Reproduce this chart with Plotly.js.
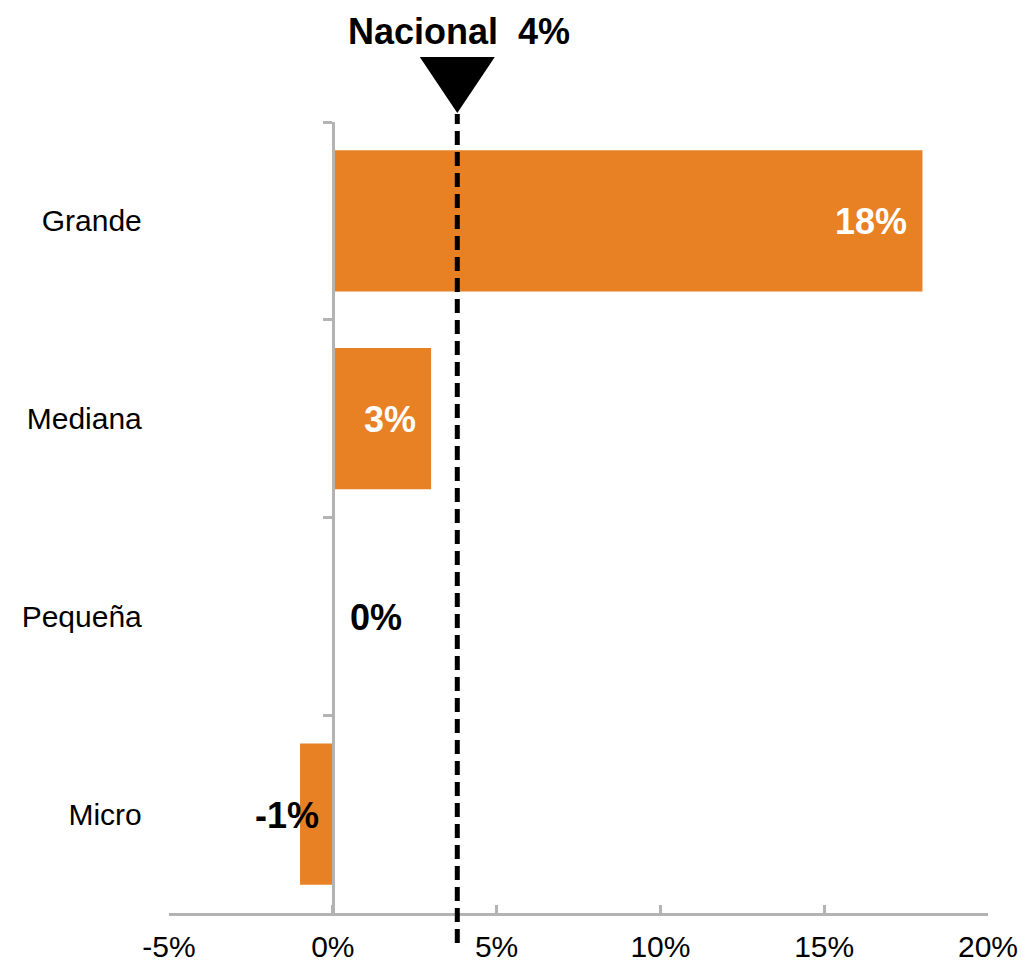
<!DOCTYPE html>
<html>
<head>
<meta charset="utf-8">
<script src="https://cdn.plot.ly/plotly-3.0.1.min.js"></script>
<style>html,body{margin:0;padding:0;background:#fff;}</style>
</head>
<body>
<div id="chart" style="width:1023px;height:967px;"></div>
<script>
// ---- data ----
const categories = ['Grande', 'Mediana', 'Pequeña', 'Micro'];
const values = [18, 3, 0, -1];          // % change
const nacionalLabel = 'Nacional';
const nacionalValue = 3.8;              // %
const xTickVals = [-5, 0, 5, 10, 15, 20];
const xTickText = ['-5%', '0%', '5%', '10%', '15%', '20%'];

// ---- style ----
const FONT = 'Liberation Sans, Arial, sans-serif';
const ORANGE = '#E88024';
const AXIS = '#b3b3b3';
const xRange = [-5, 20];

function pct(v) { return (v < 0 ? '-' : '') + Math.abs(Math.round(v)) + '%'; }

const trace = {
  type: 'bar',
  orientation: 'h',
  x: values,
  y: categories,
  width: 0.715,
  marker: { color: ORANGE },
  hoverinfo: 'skip'
};

// value labels
const annotations = values.map((v, i) => {
  const a = {
    x: v, y: categories[i], xref: 'x', yref: 'y',
    text: pct(v), showarrow: false, yanchor: 'middle', yshift: -1,
    font: { family: FONT, size: 36, color: '#000', weight: 'bold' }
  };
  if (v >= 2) { a.xanchor = 'right'; a.xshift = -13; a.font.color = '#fff'; }
  else if (v >= 0) { a.x = 0; a.xanchor = 'left'; a.xshift = 15; }
  else { a.x = 0; a.xanchor = 'right'; a.xshift = -12; }
  return a;
});

annotations.push({
  x: nacionalValue, xref: 'x', y: 1, yref: 'paper',
  text: '<b>' + nacionalLabel + '\u00a0\u00a0' + pct(nacionalValue) + '</b>',
  showarrow: false, xanchor: 'center', yanchor: 'middle', yshift: 91, xshift: 2,
  font: { family: FONT, size: 36, color: '#000' }
});

const shapes = [
  {
    type: 'line', xref: 'x', yref: 'paper',
    x0: nacionalValue, x1: nacionalValue, y0: -0.038, y1: 1.01,
    line: { color: '#000', width: 5, dash: '14px,7px' }
  },
  {
    type: 'path', xref: 'x', yref: 'paper',
    xsizemode: 'pixel', ysizemode: 'pixel',
    xanchor: nacionalValue, yanchor: 1,
    path: 'M-37.5,65 L37.5,65 L0,9 Z',
    fillcolor: '#000', line: { width: 0 }
  }
];

const layout = {
  width: 1023, height: 967,
  margin: { l: 169, r: 35, t: 122, b: 54, pad: 0 },
  paper_bgcolor: '#fff', plot_bgcolor: '#fff',
  showlegend: false,
  font: { family: FONT, color: '#000' },
  xaxis: {
    range: xRange, tickmode: 'array', tickvals: xTickVals, ticktext: xTickText,
    showgrid: false, zeroline: false,
    showline: true, linecolor: AXIS, linewidth: 3,
    ticks: 'inside', ticklen: 8, tickwidth: 3, tickcolor: AXIS,
    tickfont: { family: FONT, size: 30, color: '#000' },
    ticklabelstandoff: 5,
    automargin: false, fixedrange: true
  },
  yaxis: {
    type: 'category', categoryarray: categories, categoryorder: 'array',
    autorange: 'reversed',
    anchor: 'free', position: (0 - xRange[0]) / (xRange[1] - xRange[0]),
    showgrid: false, zeroline: false,
    showline: true, linecolor: AXIS, linewidth: 3,
    ticks: 'outside', tickson: 'boundaries', ticklen: 9, tickwidth: 3, tickcolor: AXIS,
    tickfont: { family: FONT, size: 30, color: '#000' },
    ticklabelstandoff: 184,
    automargin: false, fixedrange: true
  },
  bargap: 0.285,
  annotations: annotations,
  shapes: shapes
};

Plotly.newPlot('chart', [trace], layout, { displayModeBar: false, staticPlot: true });
</script>
</body>
</html>
